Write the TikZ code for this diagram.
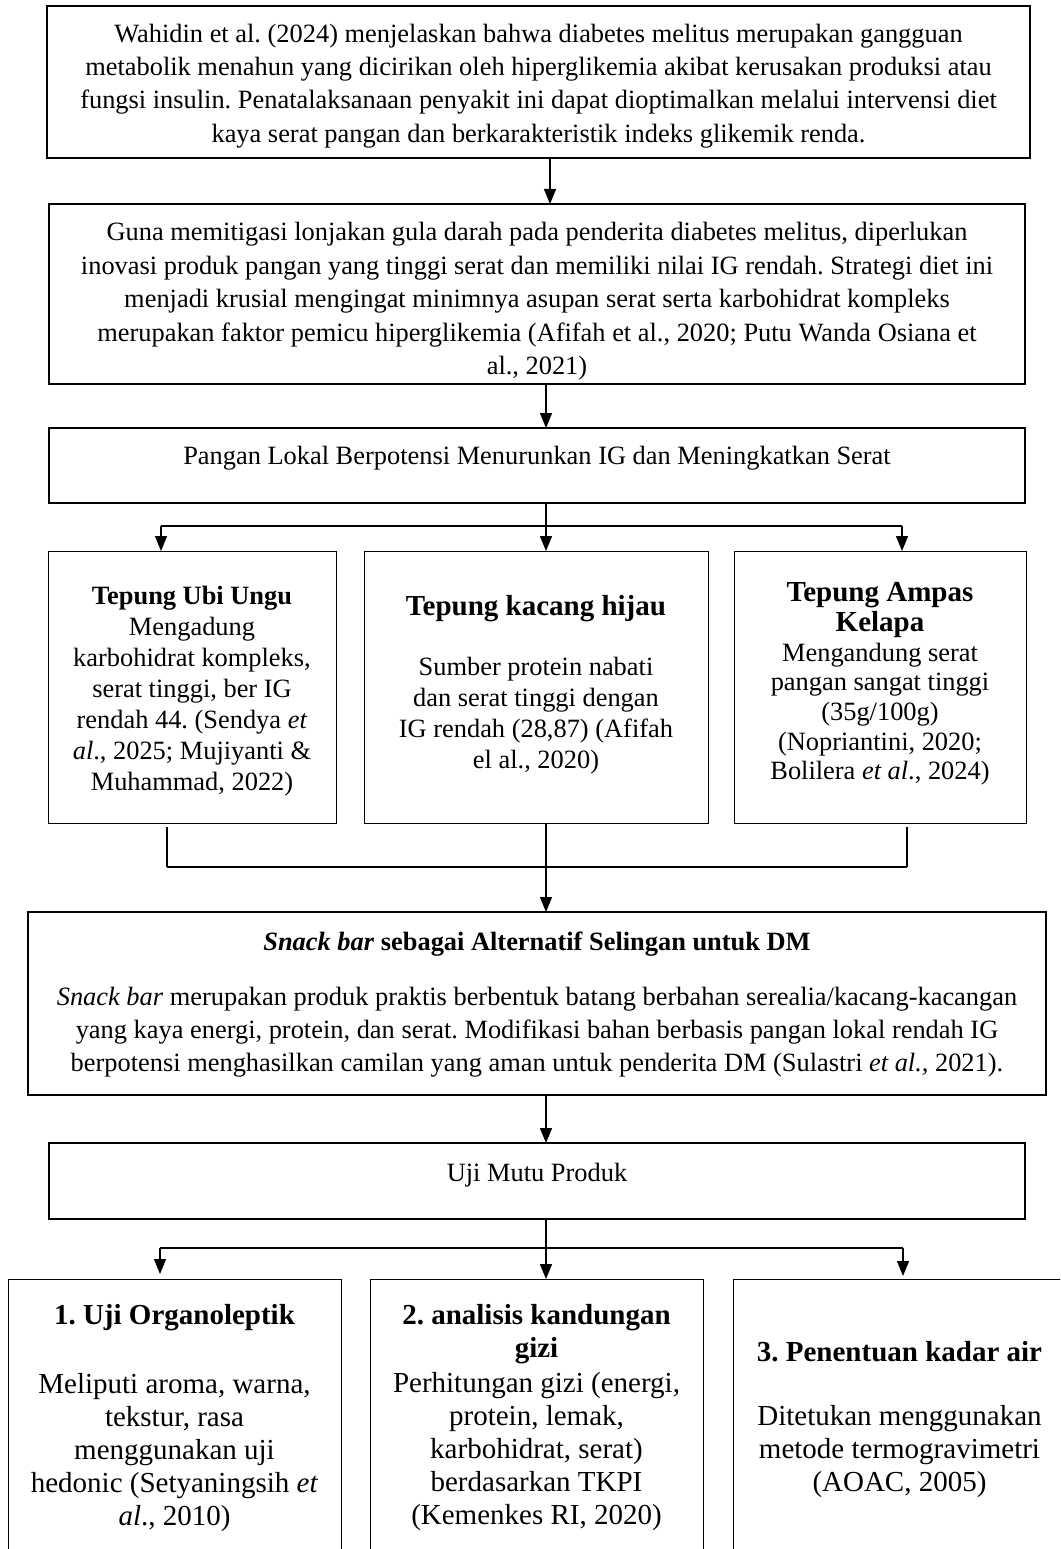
\documentclass[tikz,border=0pt]{standalone}
\usepackage{fontspec}
\setmainfont{Liberation Serif}
\usetikzlibrary{arrows.meta}
\frenchspacing
\newcommand\bx[5]{\parbox[c][#2][t]{#1}{#4\frenchspacing\parindent=0pt\centering\vspace*{#3}\strut #5\par}}
\tikzset{
  thickbox/.style={draw, line width=2.8pt, inner sep=0pt, outer sep=0pt, anchor=north west},
  thinbox/.style={draw, line width=1pt, inner sep=0pt, outer sep=0pt, anchor=north west},
  conn/.style={line width=1.3pt},
  hconn/.style={line width=2pt},
  arr/.style={line width=1.3pt, -{Triangle[length=15pt,width=12pt]}}
}
\begin{document}
\begin{tikzpicture}[x=1pt,y=-1pt]
\useasboundingbox (0,0) rectangle (1060,1549);
\clip (0,0) rectangle (1060,1549);

\node[thickbox] (b1) at (47,6) {\bx{983pt}{152pt}{12.8pt}{\fontsize{26.4}{33.3}\selectfont}{Wahidin et al. (2024) menjelaskan bahwa diabetes melitus merupakan gangguan\\
metabolik menahun yang dicirikan oleh hiperglikemia akibat kerusakan produksi atau\\
fungsi insulin. Penatalaksanaan penyakit ini dapat dioptimalkan melalui intervensi diet\\
kaya serat pangan dan berkarakteristik indeks glikemik renda.}};

\node[thickbox] (b2) at (49,204) {\bx{976pt}{180pt}{13.4pt}{\fontsize{26.4}{33.5}\selectfont}{Guna memitigasi lonjakan gula darah pada penderita diabetes melitus, diperlukan\\
inovasi produk pangan yang tinggi serat dan memiliki nilai IG rendah. Strategi diet ini\\
menjadi krusial mengingat minimnya asupan serat serta karbohidrat kompleks\\
merupakan faktor pemicu hiperglikemia (Afifah et al., 2020; Putu Wanda Osiana et\\
al., 2021)}};

\node[thickbox] (b3) at (49,428) {\bx{976pt}{75pt}{13.8pt}{\fontsize{26.4}{33}\selectfont}{Pangan Lokal Berpotensi Menurunkan IG dan Meningkatkan Serat}};

\node[thinbox] (s1) at (48,551) {\bx{288pt}{272pt}{32.2pt}{\fontsize{26.4}{31}\selectfont}{\textbf{Tepung Ubi Ungu}\\
Mengadung\\
karbohidrat kompleks,\\
serat tinggi, ber IG\\
rendah 44. (Sendya \textit{et}\\
\textit{al}., 2025; Mujiyanti \&\\
Muhammad, 2022)}};

\node[thinbox] (s2) at (364,551) {\bx{344pt}{272pt}{43pt}{\fontsize{26.4}{31}\selectfont}{{\fontsize{29}{31}\selectfont\bfseries Tepung kacang hijau}\\[29pt]
Sumber protein nabati\\
dan serat tinggi dengan\\
IG rendah (28,87) (Afifah\\
el al., 2020)}};

\node[thinbox] (s3) at (734,551) {\bx{292pt}{272pt}{29.9pt}{\fontsize{26.4}{29.7}\selectfont}{{\fontsize{29}{29.7}\selectfont\bfseries Tepung Ampas\\ Kelapa}\\
Mengandung serat\\
pangan sangat tinggi\\
(35g/100g)\\
(Nopriantini, 2020;\\
Bolilera \textit{et al}., 2024)}};

\node[thickbox] (b5) at (28,912) {\bx{1018pt}{183pt}{15.8pt}{\fontsize{26.4}{33}\selectfont}{\textbf{\textit{Snack bar} sebagai Alternatif Selingan untuk DM}\\[22pt]
\textit{Snack bar} merupakan produk praktis berbentuk batang berbahan serealia/kacang-kacangan\\
yang kaya energi, protein, dan serat. Modifikasi bahan berbasis pangan lokal rendah IG\\
berpotensi menghasilkan camilan yang aman untuk penderita DM (Sulastri \textit{et al.,} 2021).}};

\node[thickbox] (b6) at (49,1143) {\bx{976pt}{76pt}{15.8pt}{\fontsize{26.4}{33}\selectfont}{Uji Mutu Produk}};

\node[thinbox] (t1) at (8,1279) {\bx{333pt}{300pt}{22.6pt}{\fontsize{29}{33}\selectfont}{\textbf{1. Uji Organoleptik}\\[36pt]
Meliputi aroma, warna,\\
tekstur, rasa\\
menggunakan uji\\
hedonic (Setyaningsih \textit{et}\\
\textit{al}., 2010)}};

\node[thinbox] (t2) at (370,1279) {\bx{333pt}{300pt}{22.6pt}{\fontsize{29}{33}\selectfont}{\textbf{2. analisis kandungan}\\
\textbf{gizi}\\[2pt]
Perhitungan gizi (energi,\\
protein, lemak,\\
karbohidrat, serat)\\
berdasarkan TKPI\\
(Kemenkes RI, 2020)}};

\node[thinbox] (t3) at (733,1279) {\bx{333pt}{300pt}{59.6pt}{\fontsize{29}{33}\selectfont}{\textbf{3. Penentuan kadar air}\\[31pt]
Ditetukan menggunakan\\
metode termogravimetri\\
(AOAC, 2005)}};

% connectors
\coordinate (c1) at (550,0);
\coordinate (c) at (546,0);
\draw[arr] (b1.south -| c1) -- (b2.north -| c1);
\draw[arr] (b2.south -| c) -- (b3.north -| c);

\coordinate (L1) at (161,526);
\coordinate (R1) at (902,526);
\draw[hconn] (L1) -- (R1);
\draw[arr] (b3.south -| c) -- (s2.north -| c);
\draw[arr] (L1) -- (L1 |- s1.north);
\draw[arr] (R1) -- (R1 |- s3.north);

\coordinate (L2) at (167,867);
\coordinate (R2) at (907,867);
\draw[conn, shorten <=4pt] (s1.south -| L2) -- (L2);
\draw[conn, shorten <=4pt] (s3.south -| R2) -- (R2);
\draw[hconn] (L2) -- (R2);
\draw[arr] (s2.south -| c) -- (b5.north -| c);
\draw[arr] (b5.south -| c) -- (b6.north -| c);

\coordinate (L3) at (160,1248);
\coordinate (R3) at (903,1248);
\draw[hconn] (L3) -- (R3);
\draw[arr] (b6.south -| c) -- (t2.north -| c);
\draw[arr, shorten >=5pt] (L3) -- (L3 |- t1.north);
\draw[arr, shorten >=3pt] (R3) -- (R3 |- t3.north);
\end{tikzpicture}
\end{document}
